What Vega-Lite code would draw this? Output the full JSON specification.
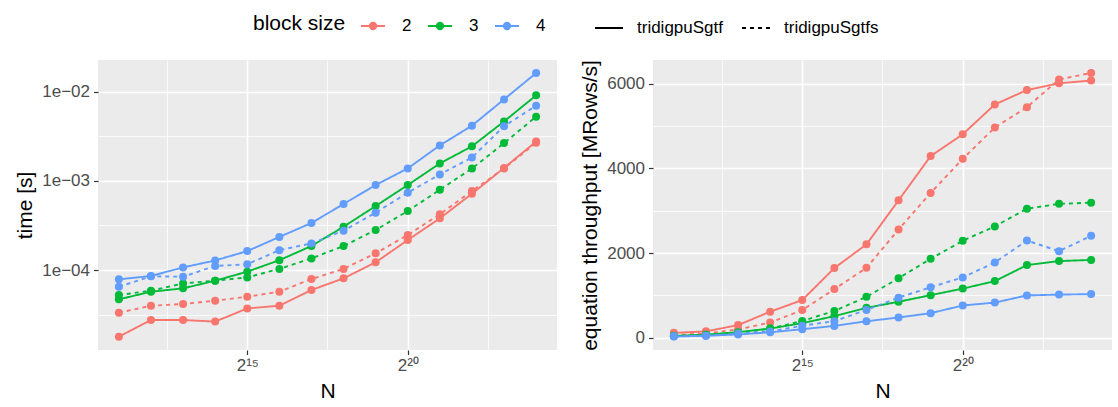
{
  "$schema": "https://vega.github.io/schema/vega-lite/v6.json",
  "padding": {"left": 14, "top": 13, "right": 7, "bottom": 2},
  "data": {"values": [
    {"N": 2048, "bs": "2", "impl": "tridigpuSgtf", "time": 1.79e-5, "thr": 115},
    {"N": 4096, "bs": "2", "impl": "tridigpuSgtf", "time": 2.75e-5, "thr": 150},
    {"N": 8192, "bs": "2", "impl": "tridigpuSgtf", "time": 2.75e-5, "thr": 298},
    {"N": 16384, "bs": "2", "impl": "tridigpuSgtf", "time": 2.64e-5, "thr": 615},
    {"N": 32768, "bs": "2", "impl": "tridigpuSgtf", "time": 3.71e-5, "thr": 890},
    {"N": 65536, "bs": "2", "impl": "tridigpuSgtf", "time": 3.98e-5, "thr": 1645},
    {"N": 131072, "bs": "2", "impl": "tridigpuSgtf", "time": 5.97e-5, "thr": 2205},
    {"N": 262144, "bs": "2", "impl": "tridigpuSgtf", "time": 8.07e-5, "thr": 3245},
    {"N": 524288, "bs": "2", "impl": "tridigpuSgtf", "time": 1.22e-4, "thr": 4290},
    {"N": 1048576, "bs": "2", "impl": "tridigpuSgtf", "time": 2.17e-4, "thr": 4805},
    {"N": 2097152, "bs": "2", "impl": "tridigpuSgtf", "time": 3.8e-4, "thr": 5510},
    {"N": 4194304, "bs": "2", "impl": "tridigpuSgtf", "time": 7.17e-4, "thr": 5850},
    {"N": 8388608, "bs": "2", "impl": "tridigpuSgtf", "time": 1.396e-3, "thr": 6010},
    {"N": 16777216, "bs": "2", "impl": "tridigpuSgtf", "time": 2.76e-3, "thr": 6075},
    {"N": 2048, "bs": "2", "impl": "tridigpuSgtfs", "time": 3.32e-5, "thr": 62},
    {"N": 4096, "bs": "2", "impl": "tridigpuSgtfs", "time": 3.98e-5, "thr": 103},
    {"N": 8192, "bs": "2", "impl": "tridigpuSgtfs", "time": 4.16e-5, "thr": 197},
    {"N": 16384, "bs": "2", "impl": "tridigpuSgtfs", "time": 4.53e-5, "thr": 358},
    {"N": 32768, "bs": "2", "impl": "tridigpuSgtfs", "time": 5.02e-5, "thr": 653},
    {"N": 65536, "bs": "2", "impl": "tridigpuSgtfs", "time": 5.71e-5, "thr": 1148},
    {"N": 131072, "bs": "2", "impl": "tridigpuSgtfs", "time": 7.93e-5, "thr": 1650},
    {"N": 262144, "bs": "2", "impl": "tridigpuSgtfs", "time": 1.03e-4, "thr": 2555},
    {"N": 524288, "bs": "2", "impl": "tridigpuSgtfs", "time": 1.54e-4, "thr": 3420},
    {"N": 1048576, "bs": "2", "impl": "tridigpuSgtfs", "time": 2.47e-4, "thr": 4225},
    {"N": 2097152, "bs": "2", "impl": "tridigpuSgtfs", "time": 4.22e-4, "thr": 4965},
    {"N": 4194304, "bs": "2", "impl": "tridigpuSgtfs", "time": 7.7e-4, "thr": 5445},
    {"N": 8388608, "bs": "2", "impl": "tridigpuSgtfs", "time": 1.375e-3, "thr": 6100},
    {"N": 16777216, "bs": "2", "impl": "tridigpuSgtfs", "time": 2.68e-3, "thr": 6255},
    {"N": 2048, "bs": "3", "impl": "tridigpuSgtf", "time": 4.69e-5, "thr": 44},
    {"N": 4096, "bs": "3", "impl": "tridigpuSgtf", "time": 5.71e-5, "thr": 72},
    {"N": 8192, "bs": "3", "impl": "tridigpuSgtf", "time": 6.23e-5, "thr": 131},
    {"N": 16384, "bs": "3", "impl": "tridigpuSgtf", "time": 7.59e-5, "thr": 216},
    {"N": 32768, "bs": "3", "impl": "tridigpuSgtf", "time": 9.58e-5, "thr": 344},
    {"N": 65536, "bs": "3", "impl": "tridigpuSgtf", "time": 1.29e-4, "thr": 510},
    {"N": 131072, "bs": "3", "impl": "tridigpuSgtf", "time": 1.86e-4, "thr": 706},
    {"N": 262144, "bs": "3", "impl": "tridigpuSgtf", "time": 3.06e-4, "thr": 850},
    {"N": 524288, "bs": "3", "impl": "tridigpuSgtf", "time": 5.22e-4, "thr": 1005},
    {"N": 1048576, "bs": "3", "impl": "tridigpuSgtf", "time": 8.98e-4, "thr": 1160},
    {"N": 2097152, "bs": "3", "impl": "tridigpuSgtf", "time": 1.57e-3, "thr": 1337},
    {"N": 4194304, "bs": "3", "impl": "tridigpuSgtf", "time": 2.44e-3, "thr": 1715},
    {"N": 8388608, "bs": "3", "impl": "tridigpuSgtf", "time": 4.64e-3, "thr": 1810},
    {"N": 16777216, "bs": "3", "impl": "tridigpuSgtf", "time": 9.1e-3, "thr": 1838},
    {"N": 2048, "bs": "3", "impl": "tridigpuSgtfs", "time": 5.24e-5, "thr": 39},
    {"N": 4096, "bs": "3", "impl": "tridigpuSgtfs", "time": 5.86e-5, "thr": 70},
    {"N": 8192, "bs": "3", "impl": "tridigpuSgtfs", "time": 7.08e-5, "thr": 116},
    {"N": 16384, "bs": "3", "impl": "tridigpuSgtfs", "time": 7.59e-5, "thr": 216},
    {"N": 32768, "bs": "3", "impl": "tridigpuSgtfs", "time": 8.27e-5, "thr": 395},
    {"N": 65536, "bs": "3", "impl": "tridigpuSgtfs", "time": 1.03e-4, "thr": 633},
    {"N": 131072, "bs": "3", "impl": "tridigpuSgtfs", "time": 1.35e-4, "thr": 965},
    {"N": 262144, "bs": "3", "impl": "tridigpuSgtfs", "time": 1.86e-4, "thr": 1405},
    {"N": 524288, "bs": "3", "impl": "tridigpuSgtfs", "time": 2.81e-4, "thr": 1865},
    {"N": 1048576, "bs": "3", "impl": "tridigpuSgtfs", "time": 4.59e-4, "thr": 2290},
    {"N": 2097152, "bs": "3", "impl": "tridigpuSgtfs", "time": 7.95e-4, "thr": 2630},
    {"N": 4194304, "bs": "3", "impl": "tridigpuSgtfs", "time": 1.375e-3, "thr": 3048},
    {"N": 8388608, "bs": "3", "impl": "tridigpuSgtfs", "time": 2.65e-3, "thr": 3162},
    {"N": 16777216, "bs": "3", "impl": "tridigpuSgtfs", "time": 5.25e-3, "thr": 3190},
    {"N": 2048, "bs": "4", "impl": "tridigpuSgtf", "time": 7.86e-5, "thr": 26},
    {"N": 4096, "bs": "4", "impl": "tridigpuSgtf", "time": 8.57e-5, "thr": 48},
    {"N": 8192, "bs": "4", "impl": "tridigpuSgtf", "time": 1.07e-4, "thr": 77},
    {"N": 16384, "bs": "4", "impl": "tridigpuSgtf", "time": 1.28e-4, "thr": 128},
    {"N": 32768, "bs": "4", "impl": "tridigpuSgtf", "time": 1.63e-4, "thr": 201},
    {"N": 65536, "bs": "4", "impl": "tridigpuSgtf", "time": 2.35e-4, "thr": 279},
    {"N": 131072, "bs": "4", "impl": "tridigpuSgtf", "time": 3.37e-4, "thr": 389},
    {"N": 262144, "bs": "4", "impl": "tridigpuSgtf", "time": 5.5e-4, "thr": 477},
    {"N": 524288, "bs": "4", "impl": "tridigpuSgtf", "time": 8.98e-4, "thr": 580},
    {"N": 1048576, "bs": "4", "impl": "tridigpuSgtf", "time": 1.38e-3, "thr": 762},
    {"N": 2097152, "bs": "4", "impl": "tridigpuSgtf", "time": 2.5e-3, "thr": 830},
    {"N": 4194304, "bs": "4", "impl": "tridigpuSgtf", "time": 4.16e-3, "thr": 1000},
    {"N": 8388608, "bs": "4", "impl": "tridigpuSgtf", "time": 8.2e-3, "thr": 1018},
    {"N": 16777216, "bs": "4", "impl": "tridigpuSgtf", "time": 1.62e-2, "thr": 1030},
    {"N": 2048, "bs": "4", "impl": "tridigpuSgtfs", "time": 6.5e-5, "thr": 32},
    {"N": 4096, "bs": "4", "impl": "tridigpuSgtfs", "time": 8.5e-5, "thr": 48},
    {"N": 8192, "bs": "4", "impl": "tridigpuSgtfs", "time": 8.41e-5, "thr": 97},
    {"N": 16384, "bs": "4", "impl": "tridigpuSgtfs", "time": 1.11e-4, "thr": 148},
    {"N": 32768, "bs": "4", "impl": "tridigpuSgtfs", "time": 1.16e-4, "thr": 282},
    {"N": 65536, "bs": "4", "impl": "tridigpuSgtfs", "time": 1.67e-4, "thr": 392},
    {"N": 131072, "bs": "4", "impl": "tridigpuSgtfs", "time": 1.99e-4, "thr": 656},
    {"N": 262144, "bs": "4", "impl": "tridigpuSgtfs", "time": 2.76e-4, "thr": 947},
    {"N": 524288, "bs": "4", "impl": "tridigpuSgtfs", "time": 4.4e-4, "thr": 1193},
    {"N": 1048576, "bs": "4", "impl": "tridigpuSgtfs", "time": 7.36e-4, "thr": 1425},
    {"N": 2097152, "bs": "4", "impl": "tridigpuSgtfs", "time": 1.18e-3, "thr": 1777},
    {"N": 4194304, "bs": "4", "impl": "tridigpuSgtfs", "time": 1.83e-3, "thr": 2295},
    {"N": 8388608, "bs": "4", "impl": "tridigpuSgtfs", "time": 4.1e-3, "thr": 2045},
    {"N": 16777216, "bs": "4", "impl": "tridigpuSgtfs", "time": 6.97e-3, "thr": 2407}
  ]},
  "spacing": 96,
  "bounds": "flush",
  "hconcat": [
    {
      "width": 459,
      "height": 290,
      "encoding": {
        "x": {
          "field": "N", "type": "quantitative",
          "scale": {"type": "log", "base": 2, "domain": [1305, 26330000], "nice": false, "zero": false},
          "axis": {
            "title": "N",
            "values": [5792.6188, 32768, 185363.8, 1048576, 5931641.6],
            "labelExpr": "datum.value == 32768 ? '2¹⁵' : (datum.value == 1048576 ? '2²⁰' : '')",
            "labelOverlap": false,
            "gridWidth": {"condition": {"test": "datum.value == 32768 || datum.value == 1048576", "value": 1.6}, "value": 0.8},
            "tickOpacity": {"condition": {"test": "datum.value == 32768 || datum.value == 1048576", "value": 1}, "value": 0}
          }
        },
        "y": {
          "field": "time", "type": "quantitative",
          "scale": {"type": "log", "domain": [1.268e-5, 0.02267], "nice": false, "zero": false},
          "axis": {
            "title": "time [s]",
            "values": [3.1623e-5, 0.0001, 3.1623e-4, 0.001, 3.1623e-3, 0.01],
            "labelExpr": "datum.value == 0.01 ? '1e−02' : (datum.value == 0.001 ? '1e−03' : (datum.value == 0.0001 ? '1e−04' : ''))",
            "labelOverlap": false,
            "gridWidth": {"condition": {"test": "datum.value == 0.01 || datum.value == 0.001 || datum.value == 0.0001", "value": 1.6}, "value": 0.8},
            "tickOpacity": {"condition": {"test": "datum.value == 0.01 || datum.value == 0.001 || datum.value == 0.0001", "value": 1}, "value": 0}
          }
        },
        "color": {
          "field": "bs", "type": "nominal",
          "scale": {"domain": ["2", "3", "4"], "range": ["#F8766D", "#00BA38", "#619CFF"]},
          "legend": {
            "title": "block size", "orient": "none", "legendX": 155, "legendY": -47,
            "direction": "horizontal", "titleOrient": "left", "titlePadding": 14,
            "symbolType": "M-1,0L1,0M0.27,0A0.27,0.27,0,1,1,-0.27,0A0.27,0.27,0,1,1,0.27,0Z",
            "symbolSize": 576, "symbolStrokeWidth": 1.8, "labelOffset": 16, "columnPadding": 12,
            "encode": {"symbols": {"update": {"fill": {"scale": "color", "field": "value"}, "stroke": {"scale": "color", "field": "value"}, "opacity": {"value": 1}}}}
          }
        }
      },
      "layer": [
        {
          "mark": {"type": "line", "strokeWidth": 1.9},
          "encoding": {
            "strokeDash": {
              "field": "impl", "type": "nominal",
              "scale": {"domain": ["tridigpuSgtf", "tridigpuSgtfs"], "range": [[1, 0], [4, 4]]},
              "legend": {"title": null, "orient": "none", "legendX": 496, "legendY": -47, "direction": "horizontal",
                "symbolType": "stroke", "symbolSize": 784, "symbolStrokeColor": "black", "symbolStrokeWidth": 2,
                "labelOffset": 13, "columnPadding": 15}
            }
          }
        },
        {
          "mark": {"type": "point", "filled": true, "size": 64, "opacity": 1},
          "encoding": {"detail": {"field": "impl"}}
        }
      ]
    },
    {
      "width": 459,
      "height": 290,
      "encoding": {
        "x": {
          "field": "N", "type": "quantitative",
          "scale": {"type": "log", "base": 2, "domain": [1305, 26330000], "nice": false, "zero": false},
          "axis": {
            "title": "N",
            "values": [5792.6188, 32768, 185363.8, 1048576, 5931641.6],
            "labelExpr": "datum.value == 32768 ? '2¹⁵' : (datum.value == 1048576 ? '2²⁰' : '')",
            "labelOverlap": false,
            "gridWidth": {"condition": {"test": "datum.value == 32768 || datum.value == 1048576", "value": 1.6}, "value": 0.8},
            "tickOpacity": {"condition": {"test": "datum.value == 32768 || datum.value == 1048576", "value": 1}, "value": 0}
          }
        },
        "y": {
          "field": "thr", "type": "quantitative",
          "scale": {"domain": [-290, 6560], "nice": false, "zero": false},
          "axis": {
            "title": "equation throughput [MRows/s]",
            "values": [0, 1000, 2000, 3000, 4000, 5000, 6000],
            "format": "d",
            "labelExpr": "datum.value % 2000 == 0 ? datum.label : ''",
            "labelOverlap": false,
            "gridWidth": {"condition": {"test": "datum.value % 2000 == 0", "value": 1.6}, "value": 0.8},
            "tickOpacity": {"condition": {"test": "datum.value % 2000 == 0", "value": 1}, "value": 0}
          }
        },
        "color": {
          "field": "bs", "type": "nominal",
          "scale": {"domain": ["2", "3", "4"], "range": ["#F8766D", "#00BA38", "#619CFF"]},
          "legend": {
            "title": "block size", "orient": "none", "legendX": 155, "legendY": -47,
            "direction": "horizontal", "titleOrient": "left", "titlePadding": 14,
            "symbolType": "M-1,0L1,0M0.27,0A0.27,0.27,0,1,1,-0.27,0A0.27,0.27,0,1,1,0.27,0Z",
            "symbolSize": 576, "symbolStrokeWidth": 1.8, "labelOffset": 16, "columnPadding": 12,
            "encode": {"symbols": {"update": {"fill": {"scale": "color", "field": "value"}, "stroke": {"scale": "color", "field": "value"}, "opacity": {"value": 1}}}}
          }
        }
      },
      "layer": [
        {
          "mark": {"type": "line", "strokeWidth": 1.9},
          "encoding": {
            "strokeDash": {
              "field": "impl", "type": "nominal",
              "scale": {"domain": ["tridigpuSgtf", "tridigpuSgtfs"], "range": [[1, 0], [4, 4]]},
              "legend": {"title": null, "orient": "none", "legendX": 496, "legendY": -47, "direction": "horizontal",
                "symbolType": "stroke", "symbolSize": 784, "symbolStrokeColor": "black", "symbolStrokeWidth": 2,
                "labelOffset": 13, "columnPadding": 15}
            }
          }
        },
        {
          "mark": {"type": "point", "filled": true, "size": 64, "opacity": 1},
          "encoding": {"detail": {"field": "impl"}}
        }
      ]
    }
  ],
  "config": {
    "font": "Liberation Sans",
    "view": {"fill": "#EBEBEB", "stroke": null},
    "axis": {
      "domain": false,
      "gridColor": "#FFFFFF",
      "gridOpacity": 1,
      "tickColor": "#333333",
      "tickSize": 4.5,
      "tickWidth": 1.2,
      "labelColor": "#4D4D4D",
      "labelFontSize": 17,
      "labelFont": "Liberation Sans",
      "labelPadding": 4,
      "titleFont": "Liberation Sans",
      "titleFontSize": 21,
      "titleFontWeight": "normal",
      "titleColor": "#000000"
    },
    "axisX": {"titlePadding": 7, "labelPadding": 3},
    "axisY": {"titlePadding": 6},
    "legend": {
      "labelFont": "Liberation Sans",
      "labelFontSize": 17,
      "labelColor": "#000000",
      "titleFont": "Liberation Sans",
      "titleFontSize": 21,
      "titleFontWeight": "normal",
      "titleColor": "#000000"
    }
  }
}
